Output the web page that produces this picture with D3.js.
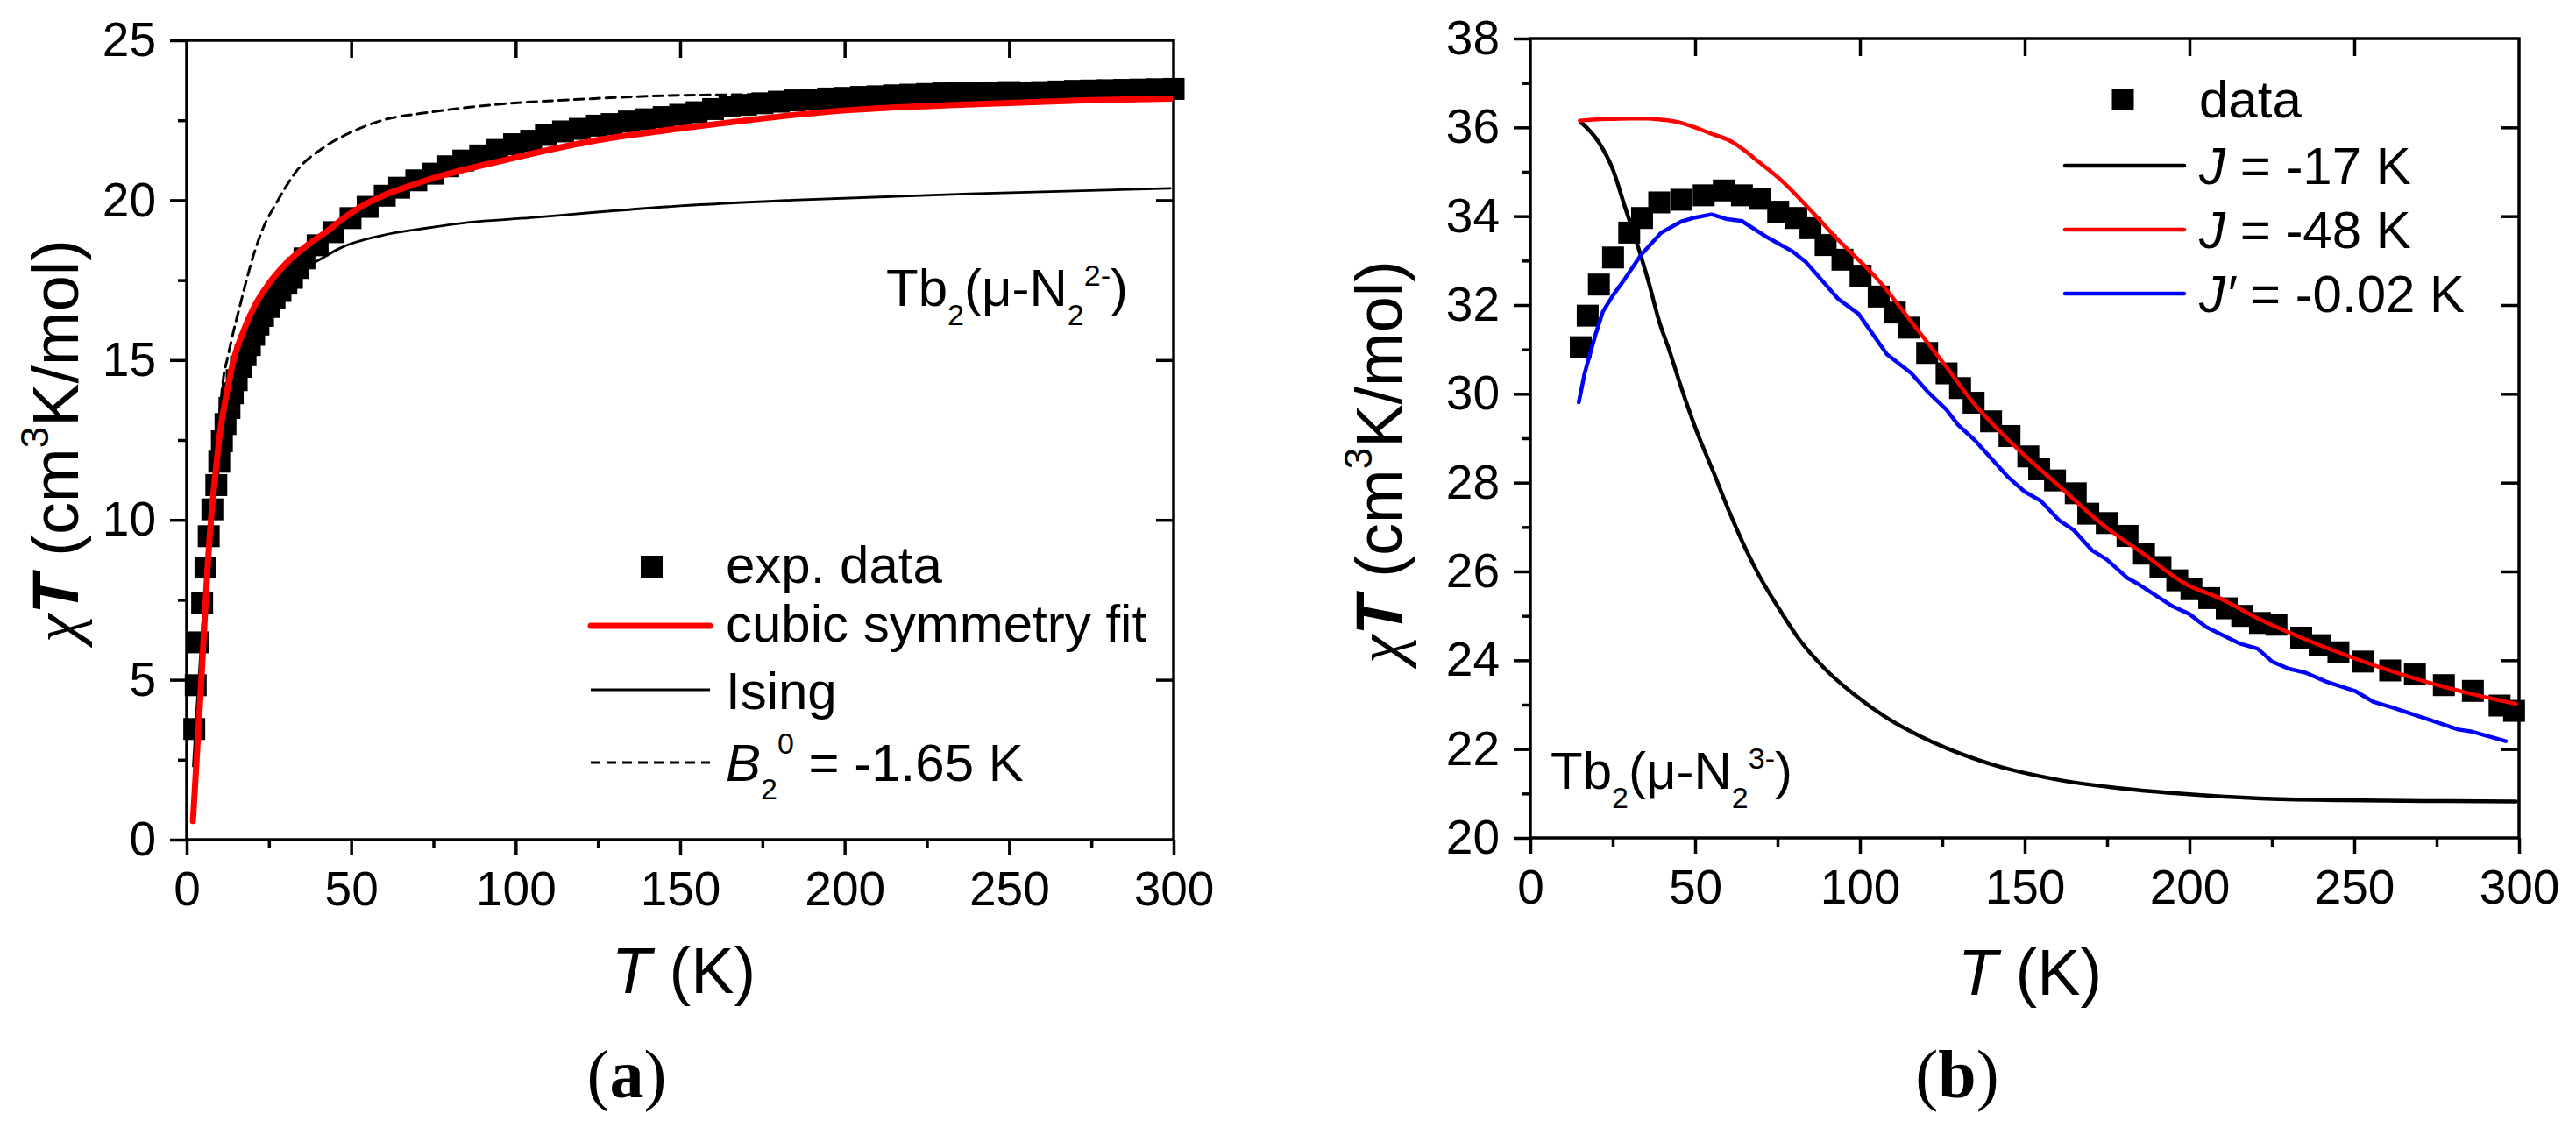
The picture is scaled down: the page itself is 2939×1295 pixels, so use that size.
<!DOCTYPE html>
<html>
<head>
<meta charset="utf-8">
<script src="https://cdn.jsdelivr.net/npm/d3@7"></script>
<style>
  body { margin: 0; background: #fff; }
  text { font-family: "Liberation Sans", Arial, sans-serif; fill: #000; }
</style>
</head>
<body>
<script>
let width = 2939;
let height = 1295;

// ---- panel (a): Tb2(mu-N2 2-) ----
let aExpT = [2.3, 2.75, 3.4, 4.7, 5.7, 6.7, 7.8, 9.0, 9.9, 10.7, 11.8, 13, 14, 15.2, 16.5, 17.9, 19.2, 20.5,
  21.8, 23.2, 25, 26.7, 28.5, 30.3, 32, 33.9, 35.8, 39.8, 44.6, 49.8, 55, 60.2, 64.6, 69.8, 75, 79.5, 84.1,
  89.2, 94.4, 99.5, 104.7, 109.2, 114.4, 119.5, 124.7, 129.2, 134.4, 139.5, 145, 150, 155, 160, 165, 170,
  175, 180, 185, 190, 195, 200, 205, 210, 215, 220, 225, 230, 235, 240, 245, 250, 255, 260, 265, 270, 275,
  280, 285, 290, 295, 300];
let aExpChi = [3.46, 4.83, 6.17, 7.39, 8.51, 9.49, 10.33, 11.09, 11.82, 12.46, 13.0, 13.5, 13.96, 14.37, 14.79,
  15.15, 15.47, 15.79, 16.11, 16.38, 16.66, 16.93, 17.16, 17.39, 17.57, 17.88, 18.18, 18.59, 19.0, 19.44,
  19.79, 20.14, 20.39, 20.62, 20.83, 21.06, 21.24, 21.4, 21.57, 21.75, 21.86, 22.04, 22.15, 22.23, 22.33,
  22.38, 22.46, 22.53, 22.6, 22.67, 22.75, 22.85, 22.93, 22.98, 23.03, 23.08, 23.12, 23.15, 23.18, 23.2,
  23.23, 23.25, 23.28, 23.3, 23.32, 23.34, 23.35, 23.36, 23.37, 23.38, 23.37, 23.38, 23.4, 23.42, 23.43,
  23.44, 23.45, 23.46, 23.47, 23.48];
let aFitT = [1.9, 3.0, 4.35, 6.3, 7.6, 8.5, 9.9, 12.1, 14.3, 17, 20.5, 25, 30.3, 36.5, 42.7, 47.2, 52.9, 72.3,
  98.1, 124, 157, 197.7, 238.5, 272.5, 299];
let aFitChi = [0.58, 2.5, 4.79, 8.44, 10.27, 11.2, 12.55, 13.92, 15.01, 15.84, 16.66, 17.39, 18.03, 18.58,
  19.03, 19.4, 19.79, 20.6, 21.29, 21.86, 22.33, 22.79, 23.0, 23.12, 23.18];
let aIsingT = [2, 3, 5, 7, 10, 15, 20, 25, 30, 35, 39.2, 46.6, 59.5, 72.4, 85.3, 104.7, 124, 150, 184, 238, 299];
let aIsingChi = [2.3, 4.0, 7.0, 9.3, 11.8, 14.5, 16.0, 16.9, 17.5, 17.85, 18.07, 18.5, 18.9, 19.12, 19.3,
  19.45, 19.62, 19.82, 20.0, 20.2, 20.37];
let aB20T = [2, 4, 6, 8, 10, 11.2, 12.5, 14.3, 16.1, 17.9, 20.1, 23.2, 27.2, 33.6, 41.4, 50.5, 59.5, 72.4,
  85.3, 98.2, 111.1, 124, 145.6, 167.8, 200, 250, 300];
let aB20Chi = [1.0, 4.5, 8.0, 10.8, 13.3, 14.47, 15.1, 15.93, 16.66, 17.39, 18.21, 19.12, 19.9, 20.94, 21.63,
  22.15, 22.5, 22.73, 22.9, 23.03, 23.11, 23.18, 23.27, 23.3, 23.36, 23.42, 23.46];

// ---- panel (b): Tb2(mu-N2 3-) ----
let bExpT = [15.3, 17.4, 20.8, 25.1, 30, 33.9, 39.1, 45.8, 52.6, 58.7, 64.2, 69.7, 75.2, 80.7, 85, 89.6, 94.7,
  100.2, 105.7, 110.6, 114.9, 120.4, 126.3, 130.4, 134.5, 139.8, 145.4, 151.1, 154.4, 159.2, 165.5, 169.3,
  174.9, 181.2, 186.2, 191.2, 196.3, 200.6, 206, 211.3, 216, 221.4, 226.4, 233.9, 239.5, 245.2, 252.7, 260.9,
  268.4, 277.2, 286, 294.1, 298.5];
let bExpChi = [31.05, 31.76, 32.46, 33.07, 33.63, 33.96, 34.31, 34.37, 34.47, 34.58, 34.47, 34.39, 34.10,
  33.96, 33.73, 33.35, 33.02, 32.66, 32.19, 31.83, 31.49, 30.92, 30.46, 30.13, 29.80, 29.38, 29.05, 28.59,
  28.30, 28.05, 27.76, 27.30, 27.09, 26.80, 26.40, 26.1, 25.8, 25.6, 25.4, 25.17, 25.0, 24.84, 24.80, 24.51,
  24.34, 24.18, 23.97, 23.77, 23.68, 23.44, 23.31, 22.98, 22.86];
let bJ17T = [15.3, 20.8, 25.1, 28.7, 32.4, 36.1, 39.1, 42.2, 45.8, 50.1, 55.6, 60.5, 65.4, 69.1, 76.4, 81.3,
  89.9, 98.4, 108.2, 118, 126.3, 139.8, 158.6, 177.4, 196.3, 221.4, 246.5, 271.5, 299.1];
let bJ17Chi = [36.12, 35.66, 35.04, 34.21, 33.38, 32.46, 31.63, 30.97, 30.14, 29.23, 28.23, 27.32, 26.5,
  25.95, 25.05, 24.5, 23.77, 23.22, 22.7, 22.3, 22.02, 21.66, 21.33, 21.13, 21.0, 20.89, 20.85, 20.83, 20.82];
let bJ48T = [15, 20, 25, 30, 35, 40, 44.6, 50, 54.4, 60.5, 65, 69, 76.4, 86.2, 93.5, 105.7, 118, 126.3, 133.5,
  147.3, 161.1, 173.7, 186.2, 198.8, 208.8, 221.4, 233.9, 246.5, 259, 271.5, 284.1, 299.1];
let bJ48Chi = [36.15, 36.18, 36.19, 36.2, 36.2, 36.17, 36.12, 36.0, 35.87, 35.7, 35.48, 35.24, 34.79, 34.04,
  33.46, 32.55, 31.39, 30.6, 29.88, 28.8, 27.88, 27.05, 26.39, 25.72, 25.41, 24.92, 24.51, 24.14, 23.81,
  23.52, 23.27, 23.02];
let bJpT = [14.7, 16.5, 19.8, 22, 25.1, 28.7, 33.6, 39.7, 45.8, 50, 55, 59.3, 64.2, 71.5, 79.5, 83.7, 93.5,
  99.6, 108.2, 115.5, 120.4, 126.3, 129.8, 134.8, 144.9, 149.9, 154.9, 160.6, 164.9, 170.5, 174.9, 181.2,
  183.7, 195, 200, 205, 215.1, 220.7, 225.1, 230.1, 235.2, 241.4, 250.2, 255.9, 261.5, 271.5, 281.6, 285.3, 296];
let bJpChi = [29.81, 30.47, 31.34, 31.85, 32.22, 32.59, 33.13, 33.63, 33.88, 33.97, 34.04, 33.94, 33.89,
  33.54, 33.21, 32.96, 32.13, 31.8, 30.89, 30.47, 30.06, 29.64, 29.3, 28.96, 28.13, 27.8, 27.59, 27.14,
  26.93, 26.47, 26.27, 25.85, 25.75, 25.21, 25.04, 24.75, 24.38, 24.26, 23.97, 23.81, 23.72, 23.52, 23.31,
  23.06, 22.94, 22.69, 22.44, 22.4, 22.18];

// ticks
let xTicks = [0, 50, 100, 150, 200, 250, 300];
let xMinor = [25, 75, 125, 175, 225, 275];
let aYTicks = [0, 5, 10, 15, 20, 25];
let aYMinor = [2.5, 7.5, 12.5, 17.5, 22.5];
let bYTicks = [20, 22, 24, 26, 28, 30, 32, 34, 36, 38];
let bYMinor = [21, 23, 25, 27, 29, 31, 33, 35, 37];

let svg = d3.select("body")
            .append("svg")
            .attr("width", width)
            .attr("height", height)
            .style("background", "#fff");

let zip = (xs, ys) => xs.map((t, i) => [t, ys[i]]);

// axes and frame for one panel, returns scales
function drawFrame(box, yDomain, yTicks, yMinor) {
  let x = d3.scaleLinear().domain([0, 300]).range([box.l, box.r]);
  let y = d3.scaleLinear().domain(yDomain).range([box.b, box.t]);
  let g = svg.append("g");

  // bottom: majors with labels, minors
  g.append("g").attr("transform", "translate(0," + box.b + ")")
    .call(d3.axisBottom(x).tickValues(xTicks).tickSize(18).tickPadding(18).tickSizeOuter(0));
  g.append("g").attr("transform", "translate(0," + box.b + ")")
    .call(d3.axisBottom(x).tickValues(xMinor).tickSize(10).tickFormat("").tickSizeOuter(0));
  // left
  g.append("g").attr("transform", "translate(" + box.l + ",0)")
    .call(d3.axisLeft(y).tickValues(yTicks).tickSize(19).tickPadding(16).tickSizeOuter(0));
  g.append("g").attr("transform", "translate(" + box.l + ",0)")
    .call(d3.axisLeft(y).tickValues(yMinor).tickSize(10).tickFormat("").tickSizeOuter(0));
  // top and right: inward majors only
  g.append("g").attr("transform", "translate(0," + box.t + ")")
    .call(d3.axisTop(x).tickValues(xTicks.slice(1, -1)).tickSize(-20).tickFormat("").tickSizeOuter(0));
  g.append("g").attr("transform", "translate(" + box.r + ",0)")
    .call(d3.axisRight(y).tickValues(yTicks.slice(1, -1)).tickSize(-20).tickFormat("").tickSizeOuter(0));

  g.selectAll(".domain").remove();
  g.selectAll(".tick line").attr("stroke", "#000").attr("stroke-width", 3.5);
  g.selectAll(".tick text").attr("font-size", 55).attr("fill", "#000")
    .style("font-family", "'Liberation Sans', Arial, sans-serif");

  g.append("rect")
    .attr("x", box.l).attr("y", box.t)
    .attr("width", box.r - box.l).attr("height", box.b - box.t)
    .attr("fill", "none").attr("stroke", "#000").attr("stroke-width", 3.5);
  return { x: x, y: y };
}

function drawLine(sc, xs, ys, color, w, dash, curve) {
  let line = d3.line().x(d => sc.x(d[0])).y(d => sc.y(d[1])).curve(curve || d3.curveMonotoneX);
  svg.append("path")
    .datum(zip(xs, ys))
    .attr("d", line)
    .attr("fill", "none")
    .attr("stroke", color)
    .attr("stroke-width", w)
    .attr("stroke-dasharray", dash || null)
    .attr("stroke-linejoin", "round")
    .attr("stroke-linecap", "round");
}

function drawSquares(sc, xs, ys) {
  svg.append("g").selectAll("rect")
    .data(zip(xs, ys))
    .enter()
    .append("rect")
    .attr("x", d => sc.x(d[0]) - 12.5)
    .attr("y", d => sc.y(d[1]) - 12.5)
    .attr("width", 25)
    .attr("height", 25)
    .attr("fill", "#000");
}

function yTitle(xPos, yPos) {
  let t = svg.append("text")
    .attr("transform", "translate(" + xPos + "," + yPos + ") rotate(-90)")
    .attr("text-anchor", "middle")
    .attr("font-size", 74);
  t.append("tspan").text("\u03C7").style("font-family", "'Liberation Serif', serif").attr("font-style", "italic");
  t.append("tspan").text("T").attr("font-style", "italic").attr("font-weight", "bold");
  t.append("tspan").text(" (cm");
  t.append("tspan").text("3").attr("font-size", 44).attr("dy", -34);
  t.append("tspan").text("K/mol)").attr("dy", 34);
}

function xTitle(xPos, yPos) {
  let t = svg.append("text")
    .attr("x", xPos).attr("y", yPos)
    .attr("text-anchor", "middle")
    .attr("font-size", 74);
  t.append("tspan").text("T").attr("font-style", "italic");
  t.append("tspan").text(" (K)");
}

function panelLetter(xPos, yPos, letter) {
  let t = svg.append("text")
    .attr("x", xPos).attr("y", yPos)
    .attr("text-anchor", "middle")
    .attr("font-size", 78)
    .style("font-family", "'Liberation Serif', 'Times New Roman', serif");
  t.append("tspan").text("(");
  t.append("tspan").text(letter).attr("font-weight", "bold");
  t.append("tspan").text(")");
}

function compound(xPos, yPos, charge) {
  let t = svg.append("text")
    .attr("x", xPos).attr("y", yPos)
    .attr("font-size", 60);
  t.append("tspan").text("Tb");
  t.append("tspan").text("2").attr("font-size", 34).attr("dy", 22);
  t.append("tspan").text("(\u03BC-N").attr("dy", -22);
  t.append("tspan").text("2").attr("font-size", 34).attr("dy", 22);
  t.append("tspan").text(charge).attr("font-size", 34).attr("dy", -45);
  t.append("tspan").text(")").attr("dy", 23);
}

// ================= panel (a) =================
let boxA = { l: 213, r: 1339, t: 46, b: 958 };
let scA = drawFrame(boxA, [0, 25], aYTicks, aYMinor);

drawLine(scA, aB20T, aB20Chi, "#000", 3, "11,7");
drawLine(scA, aIsingT, aIsingChi, "#000", 2.8);
drawSquares(scA, aExpT, aExpChi);
drawLine(scA, aFitT, aFitChi, "#ff0000", 7);

yTitle(89, 503);
xTitle(780, 1133);
panelLetter(715, 1252, "a");
compound(1011, 349, "2-");

// legend (a)
let legA = svg.append("g");
legA.append("rect").attr("x", 731).attr("y", 634).attr("width", 25).attr("height", 25).attr("fill", "#000");
legA.append("line").attr("x1", 674).attr("x2", 810).attr("y1", 714).attr("y2", 714)
  .attr("stroke", "#ff0000").attr("stroke-width", 7).attr("stroke-linecap", "round");
legA.append("line").attr("x1", 674).attr("x2", 810).attr("y1", 787).attr("y2", 787)
  .attr("stroke", "#000").attr("stroke-width", 2.8);
legA.append("line").attr("x1", 674).attr("x2", 810).attr("y1", 870).attr("y2", 870)
  .attr("stroke", "#000").attr("stroke-width", 3).attr("stroke-dasharray", "11,7");
legA.append("text").attr("x", 828).attr("y", 665).attr("font-size", 60).text("exp. data");
legA.append("text").attr("x", 828).attr("y", 732).attr("font-size", 60).text("cubic symmetry fit");
legA.append("text").attr("x", 828).attr("y", 809).attr("font-size", 60).text("Ising");
let bl = legA.append("text").attr("x", 828).attr("y", 891).attr("font-size", 60);
bl.append("tspan").text("B").attr("font-style", "italic");
bl.append("tspan").text("2").attr("font-size", 34).attr("dy", 21);
bl.append("tspan").text("0").attr("font-size", 34).attr("dy", -52);
bl.append("tspan").text(" = -1.65 K").attr("dy", 31);

// ================= panel (b) =================
let boxB = { l: 1746, r: 2874, t: 44, b: 956 };
let scB = drawFrame(boxB, [20, 38], bYTicks, bYMinor);

drawSquares(scB, bExpT, bExpChi);
drawLine(scB, bJ17T, bJ17Chi, "#000", 4.5);
drawLine(scB, bJ48T, bJ48Chi, "#ff0000", 4.5);
drawLine(scB, bJpT, bJpChi, "#0000ff", 4.5, null, d3.curveLinear);

yTitle(1599, 527);
xTitle(2316, 1135);
panelLetter(2233, 1252, "b");
compound(1769, 900, "3-");

// legend (b)
let legB = svg.append("g");
legB.append("rect").attr("x", 2409.5).attr("y", 101).attr("width", 25).attr("height", 25).attr("fill", "#000");
legB.append("text").attr("x", 2509).attr("y", 134).attr("font-size", 60).text("data");
let legBLines = [
  { y: 189, color: "#000", j: "J", rest: " = -17 K" },
  { y: 262, color: "#ff0000", j: "J", rest: " = -48 K" },
  { y: 335, color: "#0000ff", j: "J\u2032", rest: " = -0.02 K" }
];
let lb = legB.selectAll(".lb").data(legBLines).enter().append("g").classed("lb", true);
lb.append("line")
  .attr("x1", 2356).attr("x2", 2492)
  .attr("y1", d => d.y).attr("y2", d => d.y)
  .attr("stroke", d => d.color).attr("stroke-width", 4.5).attr("stroke-linecap", "round");
let lt = lb.append("text").attr("x", 2509).attr("y", d => d.y + 21).attr("font-size", 60);
lt.append("tspan").attr("font-style", "italic").text(d => d.j);
lt.append("tspan").text(d => d.rest);
</script>
</body>
</html>
